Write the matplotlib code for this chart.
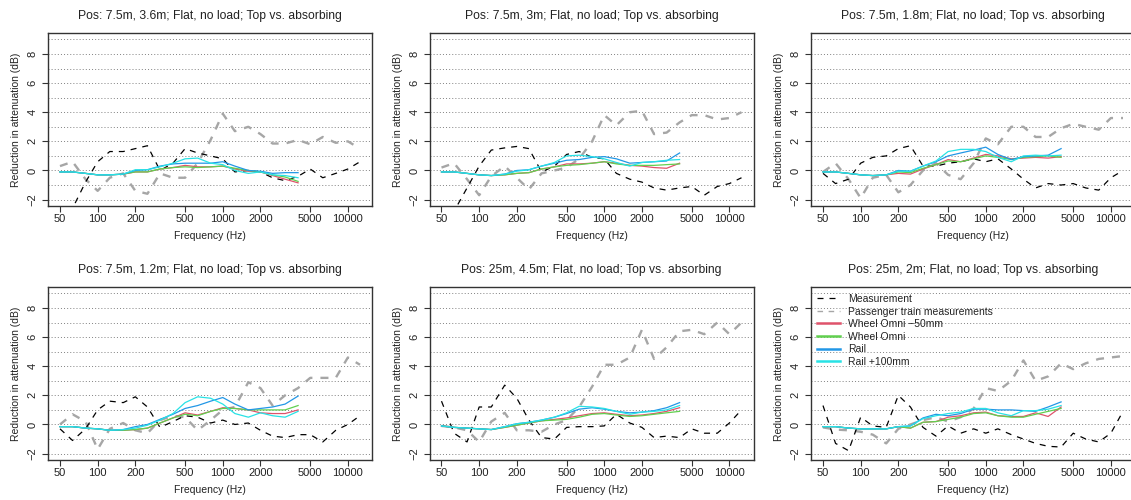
import matplotlib
matplotlib.use("Agg")
import matplotlib.pyplot as plt
from matplotlib.lines import Line2D

plt.rcParams['font.family'] = ['Liberation Sans', 'DejaVu Sans']
plt.rcParams['font.size'] = 7.5

# third-octave bands
freqs = [50, 63, 80, 100, 125, 160, 200, 250, 315, 400, 500, 630, 800, 1000,
         1250, 1600, 2000, 2500, 3150, 4000, 5000, 6300, 8000, 10000, 12500]
sim_freqs = freqs[:20]

titles = ["Pos: 7.5m, 3.6m; Flat, no load; Top vs. absorbing",
          "Pos: 7.5m, 3m; Flat, no load; Top vs. absorbing",
          "Pos: 7.5m, 1.8m; Flat, no load; Top vs. absorbing",
          "Pos: 7.5m, 1.2m; Flat, no load; Top vs. absorbing",
          "Pos: 25m, 4.5m; Flat, no load; Top vs. absorbing",
          "Pos: 25m, 2m; Flat, no load; Top vs. absorbing"]

measurement = [
    [-3.5, -2.6, -0.8, 0.6, 1.3, 1.3, 1.5, 1.7, 0.0, 0.5, 1.5, 1.2, 1.0, 0.8,
     -0.1, 0.0, -0.1, -0.5, -0.7, -0.4, 0.1, -0.5, -0.2, 0.1, 0.6],
    [-3.5, -2.8, -1.2, 0.3, 1.4, 1.55, 1.65, 1.5, -0.1, 0.3, 1.1, 1.3, 0.9, 0.8,
     -0.2, -0.6, -0.8, -1.2, -1.35, -1.2, -1.1, -1.7, -1.1, -0.9, -0.5],
    [-0.2, -0.9, -0.6, 0.5, 0.9, 1.0, 1.5, 1.7, 0.3, 0.3, 0.5, 0.6, 0.8, 0.6,
     0.8, 0.1, -0.6, -1.2, -0.9, -1.0, -0.9, -1.2, -1.35, -0.5, 0.0],
    [-0.3, -1.1, -0.3, 1.0, 1.6, 1.5, 1.9, 1.2, -0.2, 0.2, 0.6, 0.5, 0.1, 0.3,
     0.0, 0.1, -0.4, -0.8, -0.9, -0.7, -0.7, -1.2, -0.4, 0.0, 0.6],
    [1.6, -0.6, -1.2, 1.2, 1.2, 2.7, 1.8, 0.3, -0.9, -1.0, -0.2, -0.15, -0.15, -0.1,
     0.7, 0.1, -0.2, -0.9, -0.8, -0.9, -0.3, -0.6, -0.6, 0.1, 1.0],
    [1.3, -1.3, -1.8, 0.5, -0.1, -0.2, 2.0, 1.2, -0.2, -0.8, -0.1, -0.6, -0.3, -0.6,
     -0.3, -0.7, -1.0, -1.3, -1.5, -1.55, -0.6, -1.0, -1.2, -0.6, 0.9],
]

passenger = [
    [0.3, 0.6, -0.6, -1.4, -0.5, -0.2, -1.4, -1.6, -0.2, -0.5, -0.5, 0.5, 2.1, 3.9,
     2.7, 3.0, 2.5, 1.85, 1.85, 2.1, 1.8, 2.3, 1.9, 2.0, 1.5],
    [0.2, 0.5, -0.6, -1.7, -0.4, 0.3, -0.5, -1.3, -0.2, 0.0, 0.2, 0.8, 2.0, 3.8,
     3.1, 4.0, 4.1, 2.5, 2.6, 3.3, 3.8, 3.8, 3.5, 3.6, 4.0],
    [-0.1, 0.5, -0.6, -1.9, -0.5, -0.3, -1.5, -1.0, 0.0, 0.5, -0.3, -0.6, 0.5, 2.2,
     1.8, 3.0, 3.0, 2.3, 2.3, 2.9, 3.2, 3.0, 2.8, 3.6, 3.6],
    [0.0, 0.7, 0.2, -1.7, -0.3, 0.1, -0.4, -0.6, 0.3, 0.6, 0.5, -0.4, 0.3, 1.0,
     1.2, 2.9, 2.5, 1.3, 2.0, 2.5, 3.2, 3.2, 3.2, 4.6, 4.1],
    [-0.1, -0.2, -0.4, -1.2, 0.2, 0.8, -0.4, -0.4, -0.5, 0.0, 0.3, 1.2, 2.6, 4.1,
     4.1, 4.6, 6.5, 4.5, 5.3, 6.4, 6.5, 6.2, 7.0, 6.2, 7.0],
    [-0.2, -0.35, -0.4, -0.5, -0.7, -1.3, -0.3, 0.0, 0.3, 0.5, 0.2, 0.5, 1.1, 2.5,
     2.3, 3.0, 4.4, 3.0, 3.3, 4.2, 3.8, 4.2, 4.5, 4.6, 4.7],
]

wheel_m50 = [
    [-0.1, -0.1, -0.2, -0.3, -0.3, -0.25, -0.1, -0.1, 0.1, 0.2, 0.35, 0.25, 0.25, 0.3, 0.1, -0.05, -0.1, -0.35, -0.6, -0.85],
    [-0.1, -0.1, -0.2, -0.3, -0.35, -0.3, -0.2, -0.15, 0.1, 0.25, 0.45, 0.45, 0.5, 0.6, 0.5, 0.35, 0.3, 0.2, 0.15, 0.5],
    [-0.1, -0.1, -0.2, -0.3, -0.35, -0.3, -0.2, -0.25, 0.1, 0.4, 0.75, 0.6, 0.85, 1.1, 1.0, 0.8, 0.85, 0.9, 0.85, 0.95],
    [-0.15, -0.15, -0.25, -0.3, -0.4, -0.4, -0.35, -0.25, 0.1, 0.45, 0.8, 0.65, 0.9, 1.15, 1.1, 1.0, 0.8, 0.75, 0.75, 1.0],
    [-0.1, -0.2, -0.25, -0.3, -0.35, -0.2, -0.05, 0.1, 0.25, 0.35, 0.45, 0.6, 0.75, 0.8, 0.7, 0.6, 0.65, 0.75, 0.9, 1.15],
    [-0.15, -0.15, -0.25, -0.3, -0.3, -0.3, -0.15, -0.25, 0.15, 0.2, 0.5, 0.6, 0.8, 0.85, 0.6, 0.55, 0.55, 0.8, 0.55, 1.2],
]
wheel_omni = [
    [-0.1, -0.1, -0.2, -0.3, -0.3, -0.25, -0.1, -0.1, 0.1, 0.2, 0.25, 0.2, 0.25, 0.3, 0.15, 0.0, -0.1, -0.3, -0.45, -0.75],
    [-0.1, -0.1, -0.2, -0.3, -0.35, -0.3, -0.2, -0.15, 0.1, 0.25, 0.35, 0.4, 0.5, 0.6, 0.45, 0.35, 0.35, 0.35, 0.4, 0.45],
    [-0.1, -0.1, -0.2, -0.3, -0.35, -0.3, -0.1, -0.15, 0.15, 0.4, 0.65, 0.6, 0.8, 1.0, 0.9, 0.75, 0.9, 0.95, 1.0, 0.9],
    [-0.15, -0.15, -0.25, -0.3, -0.4, -0.4, -0.35, -0.25, 0.1, 0.45, 0.7, 0.6, 0.9, 1.1, 1.1, 1.0, 1.0, 1.0, 1.0, 1.3],
    [-0.1, -0.2, -0.25, -0.3, -0.35, -0.2, -0.05, 0.1, 0.25, 0.3, 0.35, 0.5, 0.7, 0.75, 0.65, 0.55, 0.6, 0.7, 0.8, 0.9],
    [-0.15, -0.15, -0.25, -0.3, -0.3, -0.3, -0.15, -0.25, 0.15, 0.2, 0.35, 0.5, 0.75, 0.8, 0.6, 0.5, 0.5, 0.7, 0.9, 1.1],
]
rail = [
    [-0.1, -0.1, -0.2, -0.3, -0.3, -0.25, 0.0, 0.05, 0.3, 0.45, 0.5, 0.5, 0.5, 0.6, 0.3, 0.0, -0.05, -0.2, -0.15, -0.15],
    [-0.1, -0.1, -0.2, -0.3, -0.35, -0.25, 0.0, 0.05, 0.3, 0.5, 0.7, 0.75, 0.9, 0.95, 0.8, 0.5, 0.55, 0.6, 0.65, 1.2],
    [-0.1, -0.1, -0.2, -0.3, -0.35, -0.3, 0.0, -0.05, 0.3, 0.6, 1.0, 1.2, 1.4, 1.6, 1.1, 0.75, 0.95, 1.0, 1.05, 1.5],
    [-0.15, -0.15, -0.25, -0.3, -0.4, -0.35, -0.15, 0.0, 0.35, 0.7, 1.1, 1.3, 1.6, 1.85, 1.4, 1.0, 1.1, 1.2, 1.4, 1.95],
    [-0.1, -0.2, -0.25, -0.3, -0.35, -0.15, 0.05, 0.15, 0.3, 0.5, 0.75, 1.05, 1.15, 1.05, 0.9, 0.8, 0.85, 0.95, 1.15, 1.5],
    [-0.15, -0.15, -0.25, -0.3, -0.3, -0.3, -0.15, -0.1, 0.45, 0.7, 0.6, 0.75, 1.05, 1.05, 1.0, 1.0, 0.95, 0.9, 1.2, 1.55],
]
rail_p100 = [
    [-0.1, -0.1, -0.2, -0.3, -0.3, -0.25, 0.05, 0.05, 0.25, 0.5, 0.8, 0.85, 0.5, 0.4, 0.0, -0.2, -0.1, -0.3, -0.35, -0.5],
    [-0.1, -0.1, -0.2, -0.3, -0.35, -0.25, -0.05, 0.05, 0.3, 0.55, 1.0, 1.05, 0.95, 0.8, 0.55, 0.3, 0.55, 0.6, 0.7, 0.75],
    [-0.1, -0.1, -0.2, -0.3, -0.35, -0.3, -0.05, -0.05, 0.3, 0.65, 1.3, 1.45, 1.45, 1.3, 0.9, 0.6, 1.0, 1.05, 1.0, 1.05],
    [-0.15, -0.15, -0.25, -0.3, -0.4, -0.35, -0.25, -0.05, 0.3, 0.75, 1.5, 1.9, 1.8, 1.4, 0.75, 0.5, 0.8, 0.6, 0.5, 0.9],
    [-0.1, -0.2, -0.25, -0.3, -0.35, -0.15, 0.05, 0.15, 0.3, 0.5, 0.8, 1.25, 1.2, 1.1, 0.9, 0.7, 0.85, 0.9, 1.0, 1.3],
    [-0.15, -0.15, -0.25, -0.3, -0.3, -0.3, -0.15, -0.1, 0.4, 0.6, 0.75, 0.85, 1.1, 1.1, 0.8, 0.6, 0.95, 0.95, 1.05, 1.3],
]

xticks = [50, 100, 200, 500, 1000, 2000, 5000, 10000]
yticks = [-2, 0, 2, 4, 6, 8]
grid_levels = list(range(-2, 10))

sim_names = ["Wheel Omni \u221250mm", "Wheel Omni", "Rail", "Rail +100mm"]
sim_colors = ["#DF536B", "#61D04F", "#2297E6", "#28E2E5"]
meas_color = "black"
pass_color = "#A6A6A6"

W, H = 1131, 500
lefts = [48, 429.5, 811]
tops = [33, 287]
aw, ah = 324, 173

# R style 4% expansion on log x, ylim c(-2, 9)
xpad = 10 ** (0.04 * (4.09691 - 1.69897))
xlim = (50 / xpad, 12500 * xpad)
ylim = (-2 - 0.44, 9 + 0.44)

fig = plt.figure(figsize=(W / 100, H / 100), dpi=100)

for i in range(6):
    r, c = divmod(i, 3)
    ax = fig.add_axes([lefts[c] / W, 1 - (tops[r] + ah) / H, aw / W, ah / H])
    ax.set_xscale("log")
    ax.set_xlim(xlim)
    ax.set_ylim(ylim)
    for g in grid_levels:
        ax.axhline(g, color="#808080", lw=0.7, ls=(0, (1, 2.2)), zorder=1)

    ax.plot(freqs, measurement[i], color=meas_color, lw=0.9, dashes=(4.8, 4.8), zorder=3)
    ax.plot(freqs, passenger[i], color=pass_color, lw=1.7, dashes=(3.4, 3.4), zorder=2)
    for vals, col in zip([wheel_m50[i], wheel_omni[i], rail[i], rail_p100[i]], sim_colors):
        ax.plot(sim_freqs, vals, color=col, lw=0.9, zorder=4)

    ax.set_xticks(xticks)
    ax.set_xticklabels([str(t) for t in xticks])
    ax.xaxis.set_minor_locator(matplotlib.ticker.NullLocator())
    ax.set_yticks(yticks)
    ax.set_yticklabels(["\u22122" if t < 0 else str(t) for t in yticks],
                       rotation=90, va="center")
    ax.tick_params(axis="both", direction="out", length=4.3, width=0.8,
                   color="#333333", labelcolor="#222222", labelsize=8)
    ax.tick_params(axis="x", pad=1.5)
    ax.tick_params(axis="y", pad=3.0)
    for s in ax.spines.values():
        s.set_color("#333333")
        s.set_linewidth(1.0)

    ax.set_xlabel("Frequency (Hz)", fontsize=7.5, color="#222222")
    ax.xaxis.set_label_coords(0.5, -0.145)
    ax.set_ylabel("Reduction in attenuation (dB)", fontsize=7.5, color="#222222")
    ax.yaxis.set_label_coords(-0.083, 0.5)
    ax.text(0.5, 1 + 14.5 / ah, titles[i],
            transform=ax.transAxes, ha="center", va="baseline",
            fontsize=8.7, color="#222222")

    if i == 5:
        handles = [
            Line2D([], [], color=meas_color, lw=0.9, dashes=(4.8, 4.8)),
            Line2D([], [], color=pass_color, lw=1.0, dashes=(4, 4)),
        ] + [Line2D([], [], color=col, lw=1.8) for col in sim_colors]
        labels = ["Measurement", "Passenger train measurements"] + sim_names
        ax.legend(handles, labels, loc="upper left",
                  bbox_to_anchor=(0.02, 0.96), frameon=False, borderpad=0,
                  borderaxespad=0, handlelength=2.2, handletextpad=0.7,
                  labelspacing=0.25, fontsize=7.5, labelcolor="#222222")

fig.savefig("out.png", dpi=100)
